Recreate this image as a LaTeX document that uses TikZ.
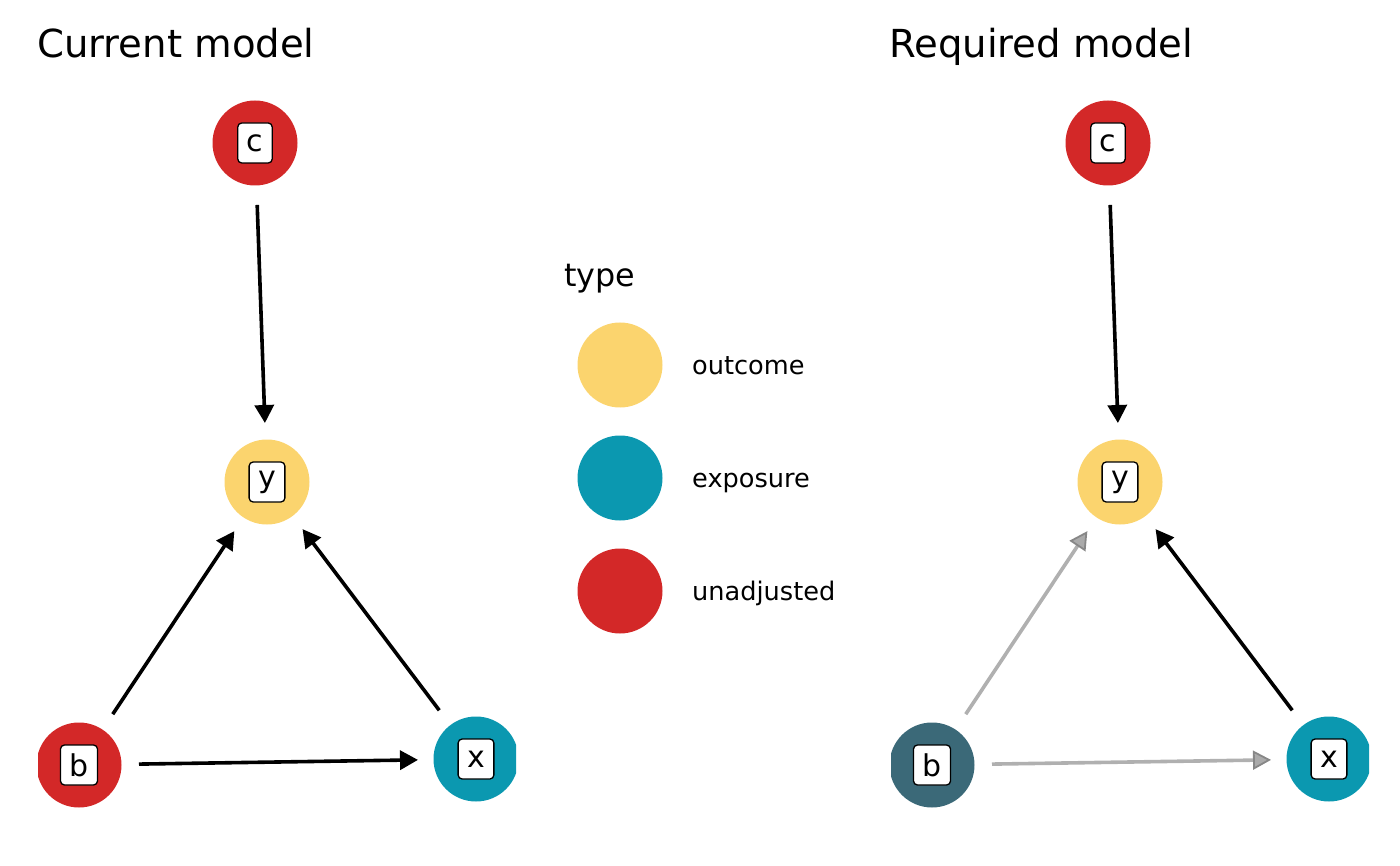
\documentclass[tikz,border=0pt]{standalone}
\usepackage{fontspec}
\setmainfont{DejaVu Sans}
\usetikzlibrary{arrows.meta,calc}
\definecolor{cunadj}{RGB}{211,40,40}
\definecolor{coutc}{RGB}{251,212,110}
\definecolor{cexpo}{RGB}{11,152,176}
\definecolor{cadj}{RGB}{59,105,120}
\definecolor{cgrayline}{RGB}{176,176,176}
\definecolor{cgraytipd}{RGB}{135,135,135}
\definecolor{cgraytipf}{RGB}{170,170,170}
\tikzset{
  dot/.style={circle, inner sep=0pt, minimum size=85pt, draw=none},
  lbl/.style={rectangle, rounded corners=4pt, fill=white, draw=black, line width=1.3pt,
    minimum height=40pt, inner xsep=9pt, inner ysep=0pt,
    font=\fontsize{30}{35}\selectfont},
  edge/.style={line width=3.6pt, black, -{Triangle[length=18pt,width=19pt]}},
  grayedge/.style={line width=3.6pt, cgrayline,
    -{Triangle[length=18pt,width=19pt,color=cgraytipd,fill=cgraytipf,line width=1.8pt]}},
  ttl/.style={anchor=base west, inner sep=0pt, font=\fontsize{38.6}{46}\selectfont},
  legtxt/.style={anchor=base west, inner sep=0pt, font=\fontsize{25.6}{30}\selectfont},
}
\begin{document}
\begin{tikzpicture}[x=1pt,y=-1pt]
\useasboundingbox (0,0) rectangle (1400,866);
% titles
\node[ttl] (t1) at (37,58) {Current model};
\node[ttl] (t2) at (889,58) {Required model};
% left panel
\begin{scope}
\clip (38,0) rectangle (516,866);
\node[dot, fill=cunadj] (c1) at (255,143) {};
\node[dot, fill=coutc] (y1) at (267,482) {};
\node[dot, fill=cunadj] (b1) at (79,765) {};
\node[dot, fill=cexpo] (x1) at (476,759) {};
\end{scope}
\draw[edge] ($(c1)!62pt!(y1)$) -- ($(y1)!59pt!(c1)$);
\draw[edge] ($(b1)!61pt!(y1)$) -- ($(y1)!59pt!(b1)$);
\draw[edge] ($(x1)!61pt!(y1)$) -- ($(y1)!59pt!(x1)$);
\draw[edge] ($(b1)!60pt!(x1)$) -- ($(x1)!58pt!(b1)$);
\node[lbl] (lc1) at (c1) {c};
\node[lbl] (ly1) at (y1) {y};
\node[lbl] (lb1) at (b1) {b};
\node[lbl] (lx1) at (x1) {x};
% right panel
\begin{scope}
\clip (891,0) rectangle (1369,866);
\node[dot, fill=cunadj] (c2) at (1108,143) {};
\node[dot, fill=coutc] (y2) at (1120,482) {};
\node[dot, fill=cadj] (b2) at (932,765) {};
\node[dot, fill=cexpo] (x2) at (1329,759) {};
\end{scope}
\draw[edge] ($(c2)!62pt!(y2)$) -- ($(y2)!59pt!(c2)$);
\draw[grayedge] ($(b2)!61pt!(y2)$) -- ($(y2)!59pt!(b2)$);
\draw[edge] ($(x2)!61pt!(y2)$) -- ($(y2)!59pt!(x2)$);
\draw[grayedge] ($(b2)!60pt!(x2)$) -- ($(x2)!58pt!(b2)$);
\node[lbl] (lc2) at (c2) {c};
\node[lbl] (ly2) at (y2) {y};
\node[lbl] (lb2) at (b2) {b};
\node[lbl] (lx2) at (x2) {x};
% legend
\node[anchor=base west, inner sep=0pt, font=\fontsize{31.8}{37}\selectfont] (lt) at (564,287) {type};
\node[dot, fill=coutc] (k1) at (620,365) {};
\node[dot, fill=cexpo] (k2) at (620,478) {};
\node[dot, fill=cunadj] (k3) at (620,591) {};
\node[legtxt] (kt1) at (692,374) {outcome};
\node[legtxt] (kt2) at (692,487) {exposure};
\node[legtxt] (kt3) at (692,600) {unadjusted};
\end{tikzpicture}
\end{document}
